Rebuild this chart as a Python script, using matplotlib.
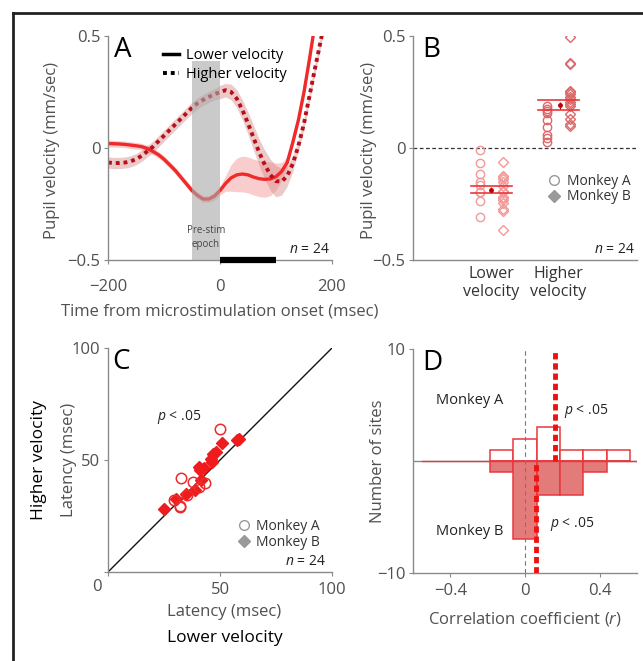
import numpy as np
import matplotlib
matplotlib.use('Agg')
import matplotlib.pyplot as plt
from matplotlib.lines import Line2D

plt.rcParams['font.family'] = ['Open Sans', 'DejaVu Sans']
plt.rcParams['mathtext.fontset'] = 'custom'
plt.rcParams['mathtext.it'] = 'Open Sans:italic'
plt.rcParams['mathtext.rm'] = 'Open Sans'

# ---- panel A: pupil velocity traces ----
time_ms = np.arange(-200, 201, 10)
lower_vel = [0.020, 0.019, 0.018, 0.016, 0.013, 0.010, 0.006, -0.002, -0.015, -0.030,
             -0.050, -0.075, -0.100, -0.130, -0.160, -0.190, -0.212, -0.228, -0.228, -0.215,
             -0.190, -0.158, -0.133, -0.120, -0.116, -0.120, -0.130, -0.137, -0.140, -0.138,
             -0.128, -0.105, -0.065, 0.025, 0.125, 0.250, 0.400, 0.560, 0.720, 0.880, 1.040]
lower_sem = [0.015] * 18 + [0.015, 0.018, 0.020, 0.035, 0.060, 0.075, 0.080, 0.080,
                            0.080, 0.080, 0.080, 0.075, 0.060, 0.040, 0.025] + [0.015] * 8
higher_vel = [-0.065, -0.067, -0.067, -0.065, -0.060, -0.050, -0.035, -0.015, 0.005, 0.030,
              0.055, 0.080, 0.105, 0.130, 0.155, 0.180, 0.200, 0.215, 0.228, 0.240,
              0.250, 0.258, 0.250, 0.220, 0.170, 0.110, 0.045, -0.020, -0.075, -0.120,
              -0.148, -0.150, -0.125, -0.070, 0.010, 0.110, 0.235, 0.360, 0.480, 0.610, 0.740]
higher_sem = [0.025] * 20 + [0.030, 0.030, 0.035, 0.040, 0.045, 0.050, 0.055, 0.060,
                             0.065, 0.070, 0.070, 0.060, 0.045, 0.035] + [0.025] * 7
prestim_epoch = (-50, 0)
stim_epoch = (0, 100)

# ---- panel B: per-site pupil velocity ----
b_lower_A = [-0.009, -0.066, -0.116, -0.153, -0.165, -0.195, -0.197, -0.237, -0.307]
b_lower_B = [-0.061, -0.125, -0.13, -0.14, -0.153, -0.168, -0.19, -0.198, -0.217,
             -0.225, -0.232, -0.244, -0.272, -0.28, -0.366]
b_higher_A = [0.1875, 0.173, 0.165, 0.155, 0.125, 0.095, 0.058, 0.043, 0.028]
b_higher_B = [0.494, 0.381, 0.375, 0.256, 0.25, 0.241, 0.226, 0.22, 0.207, 0.195,
              0.1875, 0.15, 0.128, 0.107, 0.098]
b_means = [-0.186, 0.191]
b_mean_err = [0.011, 0.015]
b_band = [(-0.202, -0.170), (0.168, 0.214)]
b_categories = ['Lower\nvelocity', 'Higher\nvelocity']

# ---- panel C: latencies ----
c_lower_A = [50.0, 32.6, 38.1, 40.8, 43.3, 29.6, 32.1, 32.3, 35.1]
c_higher_A = [63.7, 41.8, 40.3, 37.8, 39.9, 32.1, 29.5, 29.0, 34.4]
c_lower_B = [25.0, 30.4, 34.8, 38.8, 41.4, 40.8, 42.9, 45.8, 47.0, 48.1, 50.7, 58.6,
             57.7, 41.0, 46.3]
c_higher_B = [28.0, 32.5, 34.8, 36.6, 41.1, 47.0, 46.3, 50.3, 52.7, 53.7, 57.7, 59.2,
              59.0, 45.5, 49.2]

# ---- panel D: correlation histograms ----
d_edges = [-0.1875, -0.0625, 0.0625, 0.1875, 0.3125, 0.4375, 0.5625]
d_counts_A = [1, 2, 3, 1, 1, 1]
d_counts_B = [1, 7, 3, 3, 1, 0]
d_median_A = 0.16
d_median_B = 0.06

RED = '#f02a2a'
DARKRED = '#b8101a'
GRAY = '#8a8a8a'
TXT = '#505050'

W, H = 643, 661
fig = plt.figure(figsize=(W / 100, H / 100), dpi=100)


def box(l, t):
    return [l / W, 1 - (t + 224) / H, 224 / W, 224 / H]


def style(ax):
    for s in ('top', 'right'):
        ax.spines[s].set_visible(False)
    for s in ('left', 'bottom'):
        ax.spines[s].set_color(GRAY)
        ax.spines[s].set_linewidth(1.0)
    ax.tick_params(colors=GRAY, labelcolor=TXT, labelsize=12, length=3, width=0.8, pad=2.5)


def letter(ax, s, x):
    ax.text(x, 1.0, s, transform=ax.transAxes, fontsize=20, va='top', ha='left',
            color='black')


def monkey_legend(ax, x, y):
    handles = [Line2D([], [], ls='none', marker='o', mfc='none', mec='#999999', ms=7),
               Line2D([], [], ls='none', marker='D', mfc='#999999', mec='#999999', ms=6)]
    ax.legend(handles=handles, labels=['Monkey A', 'Monkey B'], loc='upper left',
              bbox_to_anchor=(x, y), borderaxespad=0, borderpad=0, frameon=False,
              fontsize=10, handlelength=1, handletextpad=0.4, labelspacing=0.05,
              labelcolor='#333333')


def n_label(ax, x):
    ax.text(x, 0.015, '$n$ = 24', transform=ax.transAxes, ha='right', va='bottom',
            fontsize=10, color='#222222')


# panel A
axA = fig.add_axes(box(108, 36))
style(axA)
axA.fill_between(time_ms, np.array(lower_vel) - lower_sem, np.array(lower_vel) + lower_sem,
                 color='#f7b9b9', alpha=0.7, lw=0)
axA.fill_between(time_ms, np.array(higher_vel) - higher_sem, np.array(higher_vel) + higher_sem,
                 color='#d98a8a', alpha=0.45, lw=0)
axA.plot(time_ms, lower_vel, color=RED, lw=2.4)
axA.plot(time_ms, higher_vel, color=DARKRED, lw=2.8, ls=(0, (1, 1)), dash_capstyle='butt')
axA.axvspan(*prestim_epoch, ymax=0.89, color='#a8a8a8', alpha=0.6, lw=0, zorder=5)
axA.plot(stim_epoch, [-0.5, -0.5], color='black', lw=4.5, solid_capstyle='butt',
         clip_on=False, zorder=6)
axA.set_xlim(-200, 200)
axA.set_ylim(-0.5, 0.5)
axA.set_xticks([-200, 0, 200])
axA.set_yticks([-0.5, 0, 0.5])
axA.set_yticklabels(['\u22120.5', '0', '0.5'])
axA.set_xticklabels(['\u2212200', '0', '200'])
axA.tick_params(axis='x', pad=11)
axA.set_ylabel('Pupil velocity (mm/sec)', fontsize=12, color=TXT)
axA.yaxis.set_label_coords(-0.215, 0.49)
axA.set_xlabel('Time from microstimulation onset (msec)', fontsize=12, color=TXT)
axA.xaxis.set_label_coords(0.5, -0.195)
axA.text(-25, -0.40, 'Pre-stim\nepoch', fontsize=7, ha='center', va='center',
         color='#444444', linespacing=1.4, zorder=7)
n_label(axA, 0.99)
axA.legend(handles=[Line2D([], [], color='black', lw=2.5),
                    Line2D([], [], color='black', lw=2.8, ls=(0, (1, 1)))],
           labels=['Lower velocity', 'Higher velocity'], loc='upper left',
           bbox_to_anchor=(0.245, 0.945), borderaxespad=0, borderpad=0, frameon=False,
           fontsize=10.5, handlelength=1.1, handletextpad=0.5, labelspacing=0.25)
letter(axA, 'A', 0.025)

# panel B
axB = fig.add_axes(box(413, 36))
style(axB)
axB.axhline(0, color='#333333', lw=0.9, ls=(0, (3, 2)))
lowc, highc = '#f29a9a', '#dd6a6a'
axB.plot([0.30] * len(b_lower_A), b_lower_A, 'o', mfc='none', mec=lowc, ms=6, mew=1)
axB.plot([0.40] * len(b_lower_B), b_lower_B, 'D', mfc='none', mec=lowc, ms=5.5, mew=1)
axB.plot([0.60] * len(b_higher_A), b_higher_A, 'o', mfc='none', mec=highc, ms=6, mew=1)
axB.plot([0.70] * len(b_higher_B), b_higher_B, 'D', mfc='none', mec=highc, ms=5.5, mew=1)
for xc, band in zip([0.35, 0.65], b_band):
    for yv in band:
        axB.plot([xc - 0.09, xc + 0.09], [yv, yv], color='#e8383d', lw=1.2)
axB.errorbar([0.35, 0.655], b_means, yerr=b_mean_err, fmt='o', ms=2.5, color='#c00000',
             elinewidth=0.8, capsize=0)
axB.set_xlim(0, 1)
axB.set_ylim(-0.5, 0.5)
axB.set_yticks([-0.5, 0, 0.5])
axB.set_yticklabels(['\u22120.5', '0', '0.5'])
axB.set_xticks([0.35, 0.65])
axB.set_xticklabels(b_categories, fontsize=11.5, color='#333333')
axB.tick_params(axis='x', length=0, pad=4)
axB.set_ylabel('Pupil velocity (mm/sec)', fontsize=12, color=TXT)
axB.yaxis.set_label_coords(-0.16, 0.49)
n_label(axB, 0.99)
monkey_legend(axB, 0.6, 0.385)
letter(axB, 'B', 0.04)

# panel C
axC = fig.add_axes(box(108, 348))
style(axC)
axC.plot([0, 100], [0, 100], color='#111111', lw=1.0, zorder=1)
axC.plot(c_lower_A, c_higher_A, 'o', mfc='none', mec='#ee2a2a', ms=7.5, mew=1.1, zorder=3)
axC.plot(c_lower_B, c_higher_B, 'D', mfc='#ee1c1c', mec='#ee1c1c', ms=6.5, zorder=2)
axC.set_xlim(0, 100)
axC.set_ylim(0, 100)
axC.set_xticks([0, 50, 100])
axC.set_yticks([0, 50, 100])
axC.set_xticklabels(['', '50', '100'])
axC.set_yticklabels(['', '50', '100'])
axC.tick_params(axis='x', pad=4)
axC.text(-0.05, -0.065, '0', transform=axC.transAxes, ha='center', va='center',
         fontsize=12, color=TXT)
axC.set_ylabel('Latency (msec)', fontsize=12, color=TXT)
axC.yaxis.set_label_coords(-0.14, 0.5)
axC.text(-0.31, 0.5, 'Higher velocity', transform=axC.transAxes, rotation=90,
         ha='center', va='center', fontsize=12.5, color='black')
axC.set_xlabel('Latency (msec)', fontsize=12, color=TXT)
axC.xaxis.set_label_coords(0.52, -0.145)
axC.text(0.52, -0.295, 'Lower velocity', transform=axC.transAxes, ha='center',
         va='center', fontsize=12.5, color='black')
axC.text(22, 69, '$p$ < .05', fontsize=10, color='#222222', va='center')
n_label(axC, 0.97)
monkey_legend(axC, 0.575, 0.235)
letter(axC, 'C', 0.02)

# panel D
axD = fig.add_axes(box(413, 349))
style(axD)
widths = np.diff(d_edges)
axD.axhline(0, color=GRAY, lw=1.0, zorder=1)
axD.bar(d_edges[:-1], d_counts_A, width=widths, align='edge', color='white',
        edgecolor='#e8383d', lw=1.1, zorder=2)
axD.bar(d_edges[:-1], [-c for c in d_counts_B], width=widths, align='edge',
        color='#e37b7b', edgecolor='#e8383d', lw=1.1, zorder=2)
axD.plot([-0.55, 0.6], [0, 0], color='#e8383d', lw=1.0, zorder=3)
axD.axvline(0, color='#777777', lw=0.8, ls=(0, (4, 3)), zorder=4)
axD.plot([d_median_A, d_median_A], [0, 10], color='#ee1111', lw=3.5,
         ls=(0, (1.3, 0.8)), zorder=5)
axD.plot([d_median_B, d_median_B], [-10, 0], color='#ee1111', lw=3.5,
         ls=(0, (1.3, 0.8)), zorder=5)
axD.set_xlim(-0.6, 0.6)
axD.set_ylim(-10, 10)
axD.set_xticks([-0.4, 0, 0.4])
axD.set_xticklabels(['\u22120.4', '0', '0.4'])
axD.set_yticks([-10, 10])
axD.set_yticklabels(['\u221210', '10'])
axD.tick_params(axis='x', pad=4)
axD.set_ylabel('Number of sites', fontsize=12, color=TXT)
axD.yaxis.set_label_coords(-0.12, 0.5)
axD.set_xlabel('Correlation coefficient ($r$)', fontsize=12, color=TXT)
axD.xaxis.set_label_coords(0.5, -0.165)
axD.text(-0.477, 5.4, 'Monkey A', fontsize=10.5, color='#222222', va='center')
axD.text(-0.477, -6.3, 'Monkey B', fontsize=10.5, color='#222222', va='center')
axD.text(0.21, 4.5, '$p$ < .05', fontsize=10, color='#222222', va='center')
axD.text(0.135, -5.6, '$p$ < .05', fontsize=10, color='#222222', va='center')
letter(axD, 'D', 0.04)

# border lines (top and left)
fig.add_artist(Line2D([13 / W, 1], [1 - 13 / H, 1 - 13 / H], color='#222222', lw=2,
                      transform=fig.transFigure))
fig.add_artist(Line2D([13 / W, 13 / W], [0, 1 - 13 / H], color='#222222', lw=2,
                      transform=fig.transFigure))

fig.savefig('out.png', dpi=100)
